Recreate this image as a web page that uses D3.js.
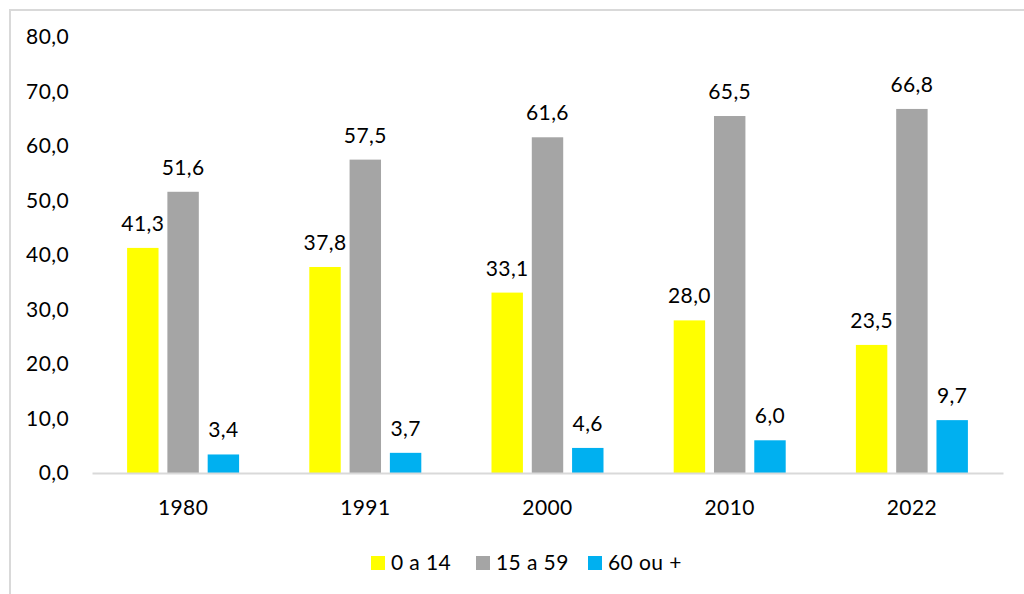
<!DOCTYPE html>
<html>
<head>
<meta charset="utf-8">
<script src="https://d3js.org/d3.v7.min.js"></script>
<style>
  body { margin: 0; background: #fff; }
  svg { font-family: Lato, "Open Sans", sans-serif; }
</style>
</head>
<body>
<svg id="chart" width="1024" height="594"></svg>
<script>
var years = ["1980", "1991", "2000", "2010", "2022"]
var seriesNames = ["0 a 14", "15 a 59", "60 ou +"]
var young = [41.3, 37.8, 33.1, 28.0, 23.5]
var adult = [51.6, 57.5, 61.6, 65.5, 66.8]
var old = [3.4, 3.7, 4.6, 6.0, 9.7]
var yTicks = [0, 10, 20, 30, 40, 50, 60, 70, 80]
var colors = ["#FFFF00", "#A5A5A5", "#00B0F0"]

var series = [young, adult, old]
var fmt = function (v) { return v.toFixed(1).replace(".", ",") }
var fontSize = 21

var svg = d3.select("#chart")

// chart frame (runs past the window on right and bottom)
svg.append("rect")
  .attr("x", 10).attr("y", 10)
  .attr("width", 1040).attr("height", 620)
  .attr("fill", "none")
  .attr("stroke", "#d9d9d9")
  .attr("stroke-width", 2)

var plotLeft = 92, plotRight = 1003, plotTop = 37, plotBottom = 473

var x = d3.scaleBand().domain(years).range([plotLeft, plotRight])
var y = d3.scaleLinear().domain([0, 80]).range([plotBottom, plotTop])
var inner = d3.scaleBand().domain([0, 1, 2]).range([0, 112]).paddingInner(0.22)

// y tick labels
svg.append("g").selectAll("text").data(yTicks).enter().append("text")
  .attr("x", 69)
  .attr("y", function (d) { return y(d) })
  .attr("dy", "0.35em")
  .attr("text-anchor", "end")
  .attr("font-size", fontSize)
  .attr("letter-spacing", 0.4)
  .attr("fill", "#000")
  .text(function (d) { return fmt(d) })

// bars
var groups = svg.append("g").selectAll("g").data(years).enter().append("g")
  .attr("transform", function (d) { return "translate(" + (x(d) + x.bandwidth() / 2 - 56) + ",0)" })

var cells = function (d, i) { return series.map(function (s, k) { return { k: k, v: s[i] } }) }

groups.selectAll("rect").data(cells).enter().append("rect")
  .attr("x", function (d) { return inner(d.k) })
  .attr("y", function (d) { return y(d.v) })
  .attr("width", inner.bandwidth())
  .attr("height", function (d) { return plotBottom - y(d.v) })
  .attr("fill", function (d) { return colors[d.k] })

groups.selectAll("text").data(cells).enter().append("text")
  .attr("x", function (d) { return inner(d.k) + inner.bandwidth() / 2 })
  .attr("y", function (d) { return y(d.v) - 17 })
  .attr("text-anchor", "middle")
  .attr("font-size", fontSize)
  .attr("letter-spacing", 0.4)
  .attr("fill", "#000")
  .text(function (d) { return fmt(d.v) })

// x axis
var xAxis = svg.append("g").attr("transform", "translate(0," + plotBottom + ")")
  .call(d3.axisBottom(x).tickSize(0).tickPadding(27))
xAxis.select(".domain").attr("stroke", "#d9d9d9").attr("stroke-width", 2)
xAxis.selectAll("text")
  .attr("font-size", fontSize)
  .attr("letter-spacing", 0.4)
  .attr("font-family", "Lato, 'Open Sans', sans-serif")
  .attr("fill", "#000")

// legend
var legendX = [371, 476, 588]
var legend = svg.append("g").selectAll("g").data(seriesNames).enter().append("g")
  .attr("transform", function (d, i) { return "translate(" + legendX[i] + ",556)" })
legend.append("rect").attr("width", 14).attr("height", 14)
  .attr("fill", function (d, i) { return colors[i] })
legend.append("text").attr("x", 20).attr("y", 7).attr("dy", "0.35em")
  .attr("font-size", fontSize).attr("letter-spacing", 0.4).attr("fill", "#000")
  .text(function (d) { return d })
</script>
</body>
</html>
